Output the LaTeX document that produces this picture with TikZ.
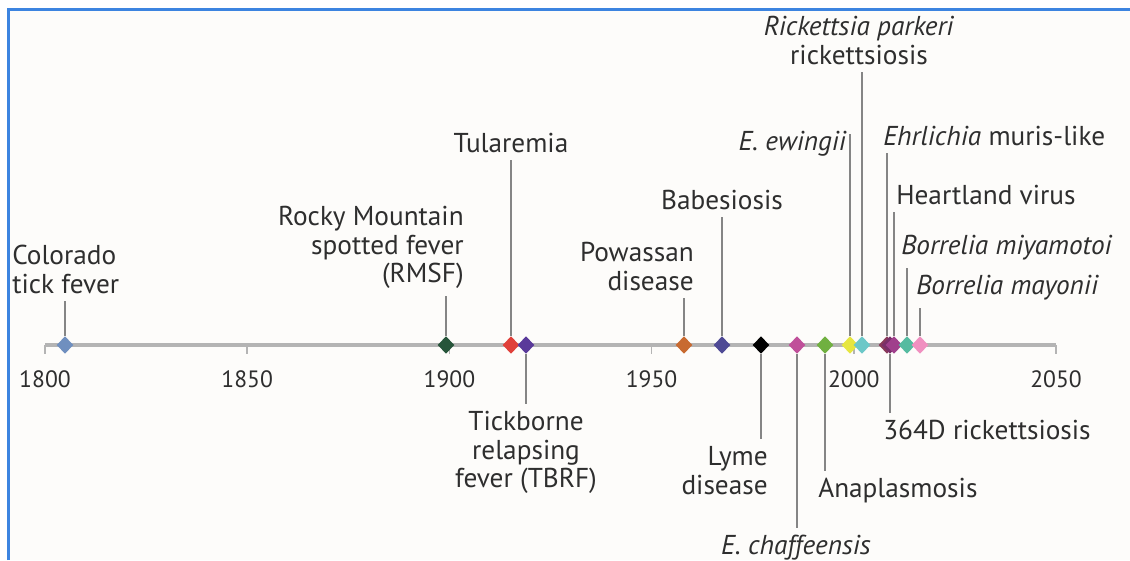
\documentclass[tikz,border=0pt]{standalone}
\usepackage{fontspec}
\setmainfont{PT Sans}
\usetikzlibrary{shapes.geometric}

\definecolor{ink}{HTML}{2E2E2E}
\definecolor{leadgray}{HTML}{858585}
\definecolor{axisgray}{HTML}{B4B4B4}
\definecolor{paper}{HTML}{FDFCFA}
\definecolor{frameblue}{HTML}{3C84E0}
\definecolor{ctfblue}{HTML}{6F8FBF}
\definecolor{rmsfgreen}{HTML}{27553A}
\definecolor{tulred}{HTML}{E0403A}
\definecolor{tbrfpurple}{HTML}{5A3A9A}
\definecolor{powbrown}{HTML}{C86A30}
\definecolor{babindigo}{HTML}{4F4A95}
\definecolor{echmagenta}{HTML}{C0509A}
\definecolor{anagreen}{HTML}{70B040}
\definecolor{ewiyellow}{HTML}{E6E640}
\definecolor{rpkcyan}{HTML}{6CC8C8}
\definecolor{ehrmaroon}{HTML}{8A3A5A}
\definecolor{rickplum}{HTML}{7A2F6A}
\definecolor{hvpurple}{HTML}{A0408C}
\definecolor{bmiteal}{HTML}{55BBA0}
\definecolor{bmapink}{HTML}{F090C0}

\tikzset{
  lbl/.style={inner sep=0pt, text=ink, font=\fontsize{19.4}{20.4}\selectfont},
  yr/.style={inner sep=0pt, text=ink, anchor=base, font=\fontsize{16.8}{18}\selectfont},
  dot/.style={diamond, fill=#1, inner sep=0pt, minimum width=0.42cm, minimum height=0.44cm},
  lead/.style={draw=leadgray, line width=1.3pt, shorten >=5pt},
  axisline/.style={draw=axisgray, line width=3pt},
  yrtick/.style={draw=axisgray, line width=1.2pt}
}

\begin{document}
\begin{tikzpicture}[x=0.025cm, y=-0.025cm]
		\useasboundingbox (0,0) rectangle (1130,560);
		\fill[white] (0,0) rectangle (1130,560);
		\fill[paper] (8.5,9.5) rectangle (1130,560);
		\draw[frameblue, line width=1.5pt] (8.5,560) -- (8.5,9.5) -- (1130,9.5);

		% time axis
		\draw[axisline] (45,345) -- (1056,345);
		\foreach \yr [count=\i from 0] in {1800,1850,...,2050} {
			\draw[yrtick] (45+202.2*\i,345) -- ++(0,9);
			\node[yr] (y\yr) at (45+202.2*\i,387) {\yr};
		}

		% diseases on the axis
		\node[dot=ctfblue] (ctf) at (65,345) {};
		\node[dot=rmsfgreen] (rmsf) at (446,345) {};
		\node[dot=tulred] (tul) at (511,345) {};
		\node[dot=tbrfpurple] (tbrf) at (526,345) {};
		\node[dot=powbrown] (pow) at (684,345) {};
		\node[dot=babindigo] (bab) at (722,345) {};
		\node[dot=black] (lyme) at (761,345) {};
		\node[dot=echmagenta] (ech) at (797,345) {};
		\node[dot=anagreen] (ana) at (825,345) {};
		\node[dot=ewiyellow] (ewi) at (850,345) {};
		\node[dot=rpkcyan] (rpk) at (862,345) {};
		\node[dot=ehrmaroon] (ehr) at (887,345) {};
		\node[dot=rickplum] (rick) at (890,345) {};
		\node[dot=hvpurple] (hv) at (894,345) {};
		\node[dot=bmiteal] (bmi) at (907,345) {};
		\node[dot=bmapink] (bma) at (920,345) {};

		% labels above
		\node[lbl, align=left, anchor=north west] (ctfl) at (12,245) {Colorado\\tick fever};
		\node[lbl, align=right, anchor=north east] (rmsfl) at (464,206) {Rocky Mountain\\spotted fever\\(RMSF)};
		\node[lbl, anchor=north] (tull) at (511,133) {Tularemia};
		\node[lbl, align=right, anchor=north east] (powl) at (694,242) {Powassan\\disease};
		\node[lbl, anchor=north] (babl) at (722,190) {Babesiosis};
		\node[lbl, anchor=north east] (ewil) at (847,131) {\textit{E. ewingii}};
		\node[lbl, align=center, anchor=north] (rpkl) at (859,16) {\textit{Rickettsia parkeri}\\rickettsiosis};
		\node[lbl, anchor=north west] (ehrl) at (883,126) {\textit{Ehrlichia} muris-like};
		\node[lbl, anchor=north west] (hvl) at (896,185) {Heartland virus};
		\node[lbl, anchor=north west] (bmil) at (901,235) {\textit{Borrelia miyamotoi}};
		\node[lbl, anchor=north west] (bmal) at (916,275) {\textit{Borrelia mayonii}};

		% labels below
		\node[lbl, align=center, anchor=north] (tbrfl) at (526,411) {Tickborne\\relapsing\\fever (TBRF)};
		\node[lbl, align=right, anchor=north east] (lymel) at (768,446) {Lyme\\disease};
		\node[lbl, anchor=north] (echl) at (796,535) {\textit{E. chaffeensis}};
		\node[lbl, anchor=north west] (anal) at (818,478) {Anaplasmosis};
		\node[lbl, anchor=north west] (rickl) at (883,420) {364D rickettsiosis};

		% leaders
		\draw[lead] (ctf.north) -- (ctf |- ctfl.south);
		\draw[lead] (rmsf.north) -- (rmsf |- rmsfl.south);
		\draw[lead] (tul.north) -- (tul |- tull.south);
		\draw[lead] (pow.north) -- (pow |- powl.south);
		\draw[lead] (bab.north) -- (bab |- babl.south);
		\draw[lead, shorten >=2pt] (ewi.north) -- (ewi |- ewil.north);
		\draw[lead] (rpk.north) -- (rpk |- rpkl.south);
		\draw[lead] (ehr.north) -- (ehr |- ehrl.south);
		\draw[lead] (hv.north) -- (hv |- hvl.south);
		\draw[lead] (bmi.north) -- (bmi |- bmil.south);
		\draw[lead] (bma.north) -- (bma |- bmal.south);
		\draw[lead] (tbrf.south) -- (tbrf |- tbrfl.north);
		\draw[lead] (lyme.south) -- (lyme |- lymel.north);
		\draw[lead] (ech.south) -- (ech |- echl.north);
		\draw[lead] (ana.south) -- (ana |- anal.north);
		\draw[lead] (rick.south) -- (rick |- rickl.north);
	\end{tikzpicture}
\end{document}
